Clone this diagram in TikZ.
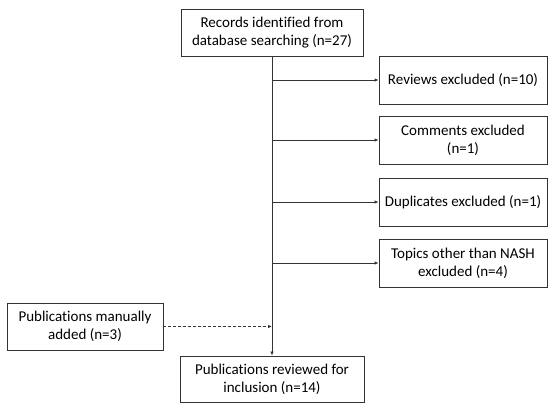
\documentclass[tikz,border=0pt]{standalone}
\usepackage{fontspec}
\setmainfont{Carlito}[Ligatures={NoCommon}]
\usepackage{tikz}
\usetikzlibrary{positioning,arrows.meta,calc}

\begin{document}
\begin{tikzpicture}[
  x=1pt, y=-1pt,
  font=\fontsize{15}{18}\selectfont,
  box/.style={draw=black!80, line width=0.8pt, align=center, inner sep=2pt},
  main/.style={box, minimum width=182pt, minimum height=47pt},
  excl/.style={box, minimum width=168pt, minimum height=48pt},
  arr/.style={-{Latex[length=4pt,width=3.5pt]}, line width=0.8pt, draw=black!80},
  dasharr/.style={arr, dash pattern=on 3pt off 2pt}
]
  \useasboundingbox (0,0) rectangle (550,409);
  \node[main] (records) at (272,32.5)
    {Records identified from\\ database searching (n=27)};
  \node[excl] (reviews) at (463,80) {Reviews excluded (n=10)};
  \node[excl] (comments) at (463,140) {Comments excluded\\ (n=1)};
  \node[excl] (dupl) at (463,202) {Duplicates excluded (n=1)};
  \node[excl] (topics) at (463,263) {Topics other than NASH\\ excluded (n=4)};
  \node[box, minimum width=156pt, minimum height=47pt] (manual) at (85,326.5)
    {Publications manually\\ added (n=3)};
  \node[main, minimum width=184pt, minimum height=46pt] (reviewed) at (272,379)
    {Publications reviewed for\\ inclusion (n=14)};
  % trunk and branch points
  \draw[arr] (records) -- (reviewed);
  \coordinate (b1) at (records.south |- reviews.west);
  \coordinate (b2) at (records.south |- comments.west);
  \coordinate (b3) at (records.south |- dupl.west);
  \coordinate (b4) at (records.south |- topics.west);
  \coordinate (b5) at (records.south |- manual.east);
  \draw[arr] (b1) -- (reviews);
  \draw[arr] (b2) -- (comments);
  \draw[arr] (b3) -- (dupl);
  \draw[arr] (b4) -- (topics);
  \draw[dasharr] (manual) -- (b5);
\end{tikzpicture}
\end{document}
